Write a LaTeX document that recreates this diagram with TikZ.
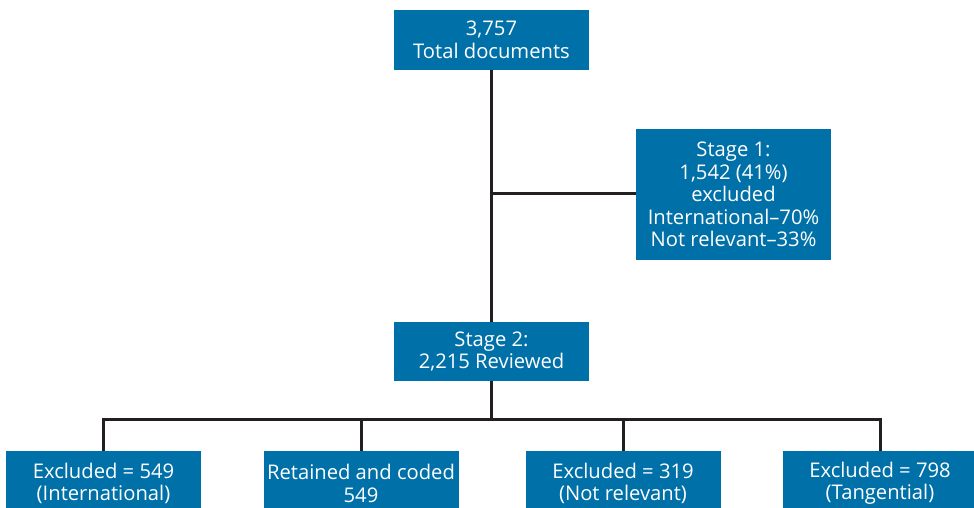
\documentclass[tikz,border=0pt]{standalone}
\usepackage{fontspec}
\setmainfont{Open Sans}
\definecolor{boxblue}{RGB}{0,112,168}
\definecolor{linedark}{RGB}{35,31,32}
\begin{document}
\begin{tikzpicture}[x=1pt,y=-1pt,
  box/.style={fill=boxblue, text=white, align=center, inner sep=0pt,
    minimum width=195pt, font=\fontsize{20.2}{22.5}\selectfont},
  conn/.style={draw=linedark, line width=3pt}]
\useasboundingbox (0,0) rectangle (974,508);
\node[box, minimum height=60pt] (top) at (491.5,40) {3,757\\Total documents};
\node[box, minimum height=131pt] (s1) at (733.5,194.5) {Stage 1:\\1,542 (41\%)\\excluded\\International--70\%\\Not relevant--33\%};
\node[box, minimum height=59pt] (s2) at (491.5,351.5) {Stage 2:\\2,215 Reviewed};
\node[box, minimum height=64pt, anchor=north] (b1) at (103.5,451) {Excluded = 549\\(International)};
\node[box, minimum height=64pt, anchor=north] (b2) at (361,451) {Retained and coded\\549};
\node[box, minimum height=64pt, anchor=north] (b3) at (623,451) {Excluded = 319\\(Not relevant)};
\node[box, minimum height=64pt, anchor=north] (b4) at (880,451) {Excluded = 798\\(Tangential)};
\coordinate (bus) at (491.5,419);
\draw[conn] (top.south) -- (s2.north);
\draw[conn] (s1.west |- 0,193) -- (top.south |- 0,193);
\draw[conn] (s2.south) -- (bus);
\draw[conn] (b1.north) |- (bus) -| (b4.north);
\draw[conn] (b2.north) -- (b2.north |- bus);
\draw[conn] (b3.north) -- (b3.north |- bus);
\end{tikzpicture}
\end{document}
